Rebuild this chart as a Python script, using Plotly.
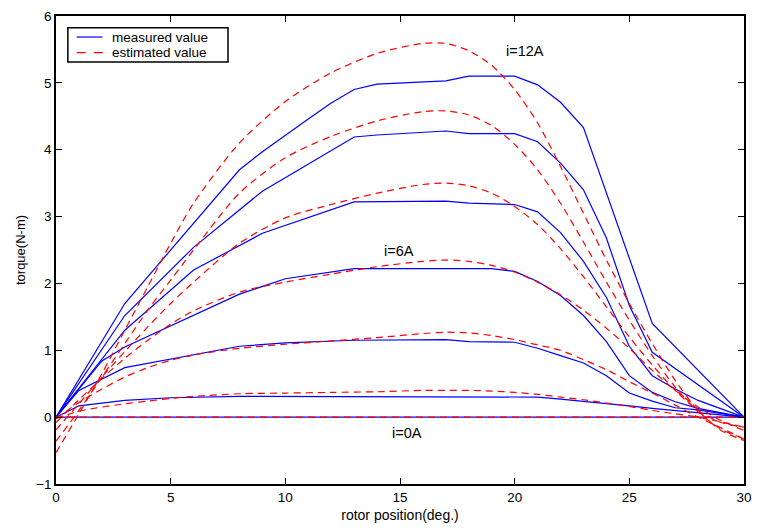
import plotly.graph_objects as go

# ---------------- data ----------------
currents = ["0A", "2A", "4A", "6A", "8A", "10A", "12A"]

# measured torque (blue solid), piecewise-linear knots per current
meas_x_0A = [0, 30]
meas_y_0A = [0, 0]
meas_x_2A = [0, 1, 3, 5, 8, 10, 13, 17, 20, 21, 22, 23, 25, 26, 28, 30]
meas_y_2A = [0, 0.17, 0.25, 0.29, 0.31, 0.31, 0.31, 0.31, 0.31, 0.30, 0.27, 0.24, 0.17, 0.13, 0.07, 0]
meas_x_4A = [0, 1, 3, 8, 10, 13, 17, 18, 20, 21, 22, 23, 24, 25, 26, 27, 28, 30]
meas_y_4A = [0, 0.40, 0.74, 1.06, 1.11, 1.15, 1.16, 1.13, 1.12, 1.03, 0.92, 0.81, 0.62, 0.36, 0.24, 0.14, 0.11, 0]
meas_x_6A = [0, 2, 3, 8, 10, 13, 17, 18, 19, 20, 21, 22, 23, 24, 25, 26, 27, 28, 30]
meas_y_6A = [0, 0.84, 1.05, 1.84, 2.07, 2.22, 2.22, 2.22, 2.22, 2.18, 2.03, 1.82, 1.52, 1.13, 0.62, 0.37, 0.23, 0.13, 0]
meas_x_8A = [0, 3, 6, 9, 13, 17, 18, 20, 21, 22, 23, 24, 25, 26, 27, 28, 30]
meas_y_8A = [0, 1.30, 2.20, 2.75, 3.22, 3.23, 3.20, 3.18, 3.07, 2.76, 2.33, 1.79, 1.06, 0.62, 0.42, 0.25, 0]
meas_x_10A = [0, 3, 6, 9, 13, 14, 17, 18, 20, 21, 22, 23, 24, 25, 26, 30]
meas_y_10A = [0, 1.52, 2.54, 3.38, 4.19, 4.22, 4.28, 4.24, 4.24, 4.12, 3.80, 3.40, 2.68, 1.67, 0.97, 0]
meas_x_12A = [0, 3, 8, 9, 11, 12, 13, 14, 17, 18, 20, 21, 22, 23, 26, 30]
meas_y_12A = [0, 1.70, 3.70, 3.97, 4.46, 4.70, 4.90, 4.98, 5.03, 5.10, 5.10, 4.97, 4.71, 4.33, 1.40, 0]

# estimated torque (red dashed)
est_x = [0, 1, 2, 3, 4, 5, 6, 8, 10, 12, 14, 16, 17, 18, 19, 20, 21, 22, 23, 24, 25, 26, 27, 28, 29, 30]
est_y_0A = [0] * 26
est_y_2A = [-0.02, 0.09, 0.15, 0.20, 0.24, 0.28, 0.31, 0.35, 0.36, 0.37, 0.38, 0.40, 0.40, 0.40, 0.39, 0.37,
            0.34, 0.30, 0.26, 0.21, 0.16, 0.10, 0.05, 0.0, -0.07, -0.15]
est_y_4A = [-0.02, 0.22, 0.42, 0.60, 0.74, 0.85, 0.93, 1.03, 1.09, 1.14, 1.19, 1.25, 1.27, 1.26, 1.22, 1.16,
            1.08, 1.00, 0.86, 0.71, 0.53, 0.36, 0.18, 0.0, -0.16, -0.33]
est_y_6A = [-0.08, 0.26, 0.58, 0.88, 1.15, 1.39, 1.59, 1.87, 2.02, 2.14, 2.25, 2.33, 2.35, 2.33, 2.27, 2.17,
            2.02, 1.83, 1.60, 1.33, 1.03, 0.70, 0.40, 0.15, -0.05, -0.20]
est_y_8A = [-0.19, 0.20, 0.60, 0.98, 1.35, 1.70, 2.02, 2.60, 2.98, 3.18, 3.35, 3.48, 3.50, 3.46, 3.35, 3.15,
            2.88, 2.52, 2.10, 1.65, 1.20, 0.78, 0.40, 0.10, -0.08, -0.15]
est_y_10A = [-0.36, 0.10, 0.60, 1.10, 1.60, 2.05, 2.50, 3.35, 3.88, 4.20, 4.43, 4.57, 4.58, 4.52, 4.36, 4.08,
             3.70, 3.20, 2.62, 2.02, 1.45, 0.92, 0.45, 0.08, -0.18, -0.32]
est_y_12A = [-0.53, 0.05, 0.65, 1.30, 1.95, 2.60, 3.20, 4.10, 4.72, 5.15, 5.44, 5.59, 5.59, 5.48, 5.26, 4.90,
             4.40, 3.75, 3.05, 2.35, 1.70, 1.10, 0.55, 0.10, -0.20, -0.35]

meas_x = [meas_x_0A, meas_x_2A, meas_x_4A, meas_x_6A, meas_x_8A, meas_x_10A, meas_x_12A]
meas_y = [meas_y_0A, meas_y_2A, meas_y_4A, meas_y_6A, meas_y_8A, meas_y_10A, meas_y_12A]
est_y = [est_y_0A, est_y_2A, est_y_4A, est_y_6A, est_y_8A, est_y_10A, est_y_12A]

labels = ["i=12A", "i=6A", "i=0A"]
label_x = [20.45, 14.95, 15.3]
label_y = [5.48, 2.48, -0.24]

legend_names = ["measured value", "estimated value"]

x_ticks = [0, 5, 10, 15, 20, 25, 30]
y_ticks = [-1, 0, 1, 2, 3, 4, 5, 6]

# ---------------- figure ----------------
FONT = "Liberation Sans, Arial, sans-serif"
BLUE, RED = "#0000ff", "#ff0000"
fig = go.Figure()

for k in range(len(currents)):
    fig.add_trace(go.Scatter(
        x=meas_x[k], y=meas_y[k], mode="lines",
        line=dict(color=BLUE, width=1.2),
        name=legend_names[0], showlegend=False,
    ))
for k in range(len(currents)):
    fig.add_trace(go.Scatter(
        x=est_x, y=est_y[k], mode="lines",
        line=dict(color=RED, width=1.2, dash="7px,5px", shape="spline", smoothing=0.8),
        name=legend_names[1], showlegend=False,
    ))

for t, xx, yy in zip(labels, label_x, label_y):
    fig.add_annotation(x=xx, y=yy, text=t, showarrow=False,
                       font=dict(family=FONT, size=14.5, color="black"))

# legend box drawn in paper coordinates (plot area: 56..752 px, 12..490 px)
def px(xp):
    return (xp - 56) / 696.0


def py(yp):
    return (490 - yp) / 478.0


fig.add_shape(type="rect", xref="paper", yref="paper",
              x0=px(68), x1=px(230), y0=py(59), y1=py(24),
              line=dict(color="black", width=1.5), fillcolor="white", layer="above")
fig.add_shape(type="line", xref="paper", yref="paper",
              x0=px(77), x1=px(103), y0=py(33.5), y1=py(33.5),
              line=dict(color=BLUE, width=1.2), layer="above")
fig.add_shape(type="line", xref="paper", yref="paper",
              x0=px(77), x1=px(103.5), y0=py(49.5), y1=py(49.5),
              line=dict(color=RED, width=1.2, dash="9px,8px"), layer="above")
for name, yy in zip(legend_names, [33.5, 49.5]):
    fig.add_annotation(xref="paper", yref="paper", x=px(111), y=py(yy), text=name,
                       xanchor="left", yanchor="middle", showarrow=False,
                       font=dict(family=FONT, size=13.5, color="black"))

axis_common = dict(
    showgrid=False, zeroline=False, showline=True, linecolor="black", linewidth=1.5,
    mirror="ticks", ticks="inside", ticklen=6, tickwidth=1, tickcolor="black",
    tickfont=dict(family=FONT, size=13.5, color="black"),
)

fig.update_layout(
    width=761, height=530, autosize=False,
    margin=dict(l=56, r=9, t=12, b=40, pad=0),
    paper_bgcolor="white", plot_bgcolor="white",
    xaxis=dict(range=[0, 30], tickvals=x_ticks, **axis_common,
               title=dict(text="rotor position(deg.)", standoff=6,
                          font=dict(family=FONT, size=14, color="black"))),
    yaxis=dict(range=[-1, 6], tickvals=y_ticks, **axis_common,
               title=dict(text="torque(N-m)", standoff=8,
                          font=dict(family=FONT, size=13, color="black"))),
    showlegend=False,
)

fig.write_html("out.html")
